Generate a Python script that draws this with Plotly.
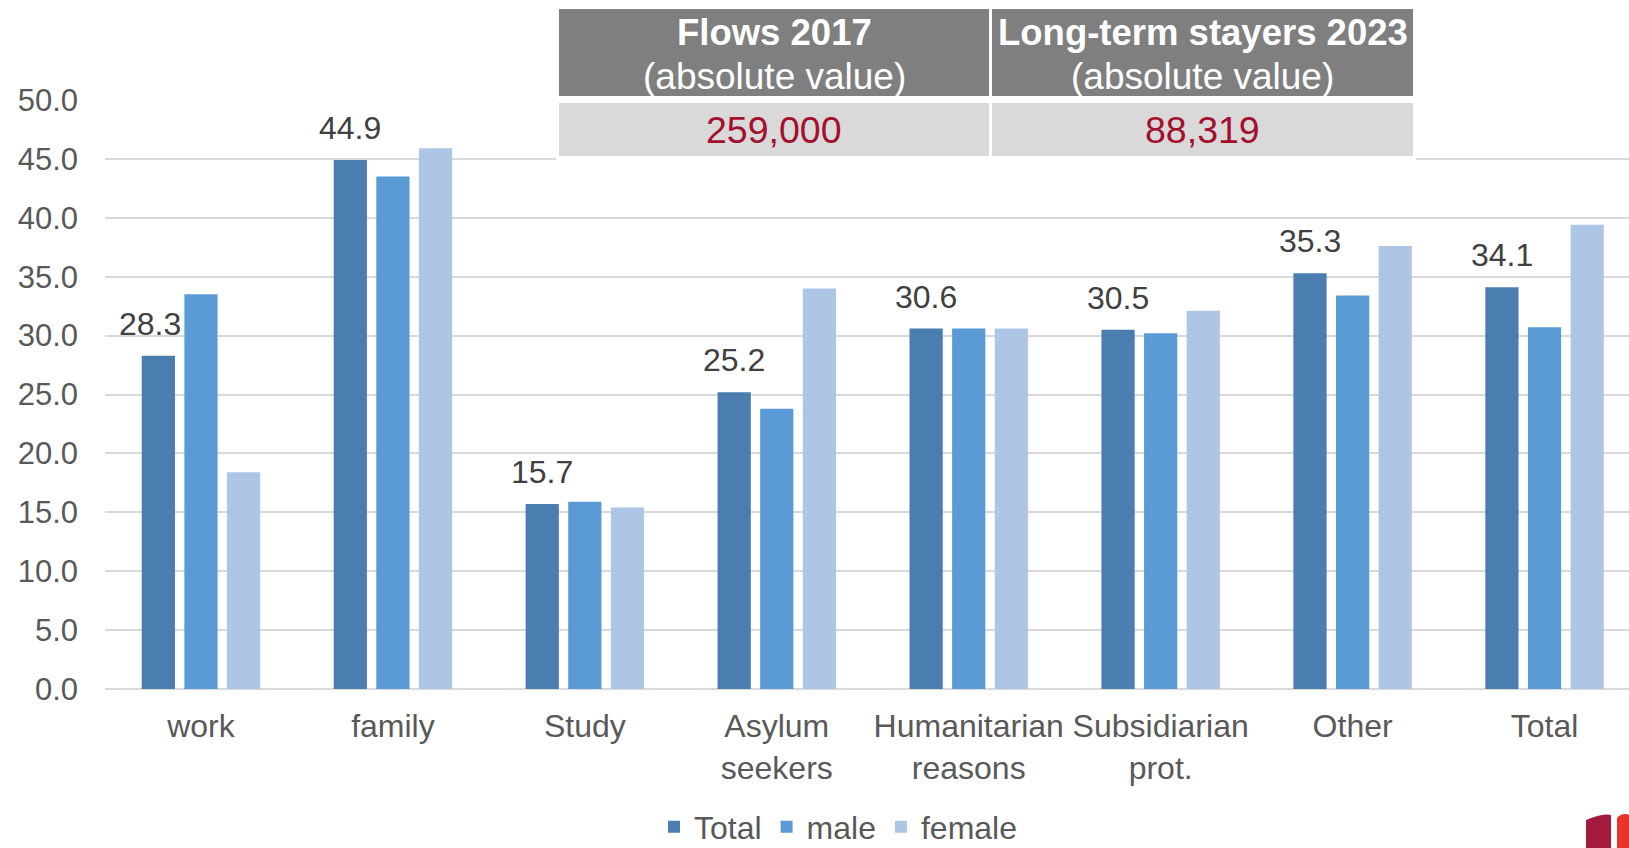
import plotly.graph_objects as go

categories = ["work", "family", "Study", "Asylum<br>seekers", "Humanitarian<br>reasons",
              "Subsidiarian<br>prot.", "Other", "Total"]
series_names = ["Total", "male", "female"]
total_vals = [28.3, 44.9, 15.7, 25.2, 30.6, 30.5, 35.3, 34.1]
male_vals = [33.5, 43.5, 15.9, 23.8, 30.6, 30.2, 33.4, 30.7]
female_vals = [18.4, 45.9, 15.4, 34.0, 30.6, 32.1, 37.6, 39.4]
y_ticks = [0, 5, 10, 15, 20, 25, 30, 35, 40, 45, 50]
y_tick_labels = ["%.1f" % v for v in y_ticks]
table_headers = ["Flows 2017", "Long-term stayers 2023"]
table_subheader = "(absolute value)"
table_values = ["259,000", "88,319"]

colors = ["#4a7eb0", "#5b9bd5", "#aec6e5"]
FONT = "Liberation Sans, Arial, sans-serif"
W, H = 1629, 848
L, R, T, B = 105, 0, 100, 848 - 689
PW, PH = W - L - R, H - T - B


def px(x):
    # x given in window pixels
    return (x - L) / PW


def py(y):
    # y given in window pixels
    return (H - B - y) / PH


fig = go.Figure()
for name, vals, col in zip(series_names, [total_vals, male_vals, female_vals], colors):
    fig.add_trace(go.Bar(x=categories, y=vals, name=name, marker_color=col,
                         marker_line_width=0))

annotations = []
for i, (c, v) in enumerate(zip(categories, total_vals)):
    # first label is nudged left in the original (it would touch the neighbouring bar)
    nudge = -8 if i == 0 else 0
    annotations.append(dict(x=c, y=v, xref="x", yref="y", text="%.1f" % v, showarrow=False,
                            xshift=-42.6 + nudge, yshift=12, xanchor="center", yanchor="bottom",
                            font=dict(size=32, color="#404040", family=FONT)))

shapes = []
# table background (white) and cells
shapes.append(dict(type="rect", xref="paper", yref="paper", x0=px(556), x1=px(1416),
                   y0=py(160), y1=py(7), fillcolor="white", line_width=0, layer="above"))
cells_x = [(559, 989), (992, 1413)]
for (x0, x1), head, val in zip(cells_x, table_headers, table_values):
    shapes.append(dict(type="rect", xref="paper", yref="paper", x0=px(x0), x1=px(x1),
                       y0=py(96), y1=py(9), fillcolor="#7f7f7f", line_width=0, layer="above"))
    shapes.append(dict(type="rect", xref="paper", yref="paper", x0=px(x0), x1=px(x1),
                       y0=py(156), y1=py(103), fillcolor="#d9d9d9", line_width=0, layer="above"))
    cx = px((x0 + x1) / 2)
    annotations.append(dict(x=cx, y=py(32), xref="paper", yref="paper", showarrow=False,
                            text="<b>%s</b>" % head, xanchor="center", yanchor="middle",
                            font=dict(size=36.5, color="white", family=FONT)))
    annotations.append(dict(x=cx, y=py(77), xref="paper", yref="paper", showarrow=False,
                            text=table_subheader, xanchor="center", yanchor="middle",
                            font=dict(size=37, color="white", family=FONT)))
    annotations.append(dict(x=cx, y=py(130), xref="paper", yref="paper", showarrow=False,
                            text=val, xanchor="center", yanchor="middle",
                            font=dict(size=37.5, color="#a50f2d", family=FONT)))

# logo fragments at bottom right
shapes.append(dict(type="path", xref="paper", yref="paper",
                   path="M %f,%f L %f,%f Q %f,%f %f,%f L %f,%f Z" % (
                       px(1586), py(850), px(1586), py(820), px(1604), py(813),
                       px(1611), py(815), px(1611), py(850)),
                   fillcolor="#a31a3d", line_width=0, layer="above"))
shapes.append(dict(type="path", xref="paper", yref="paper",
                   path="M %f,%f L %f,%f Q %f,%f %f,%f L %f,%f Z" % (
                       px(1617), py(850), px(1617), py(818), px(1622), py(812),
                       px(1630), py(815), px(1630), py(850)),
                   fillcolor="#e8322b", line_width=0, layer="above"))

fig.update_layout(
    width=W, height=H,
    margin=dict(l=L, r=R, t=T, b=B, pad=0, autoexpand=False),
    paper_bgcolor="white", plot_bgcolor="white",
    barmode="group", bargap=0.334, bargroupgap=0.22,
    font=dict(family=FONT, color="#595959", size=32),
    showlegend=True,
    legend=dict(orientation="h", x=px(838), xanchor="center", y=py(827), yanchor="middle",
                font=dict(size=32, color="#595959", family=FONT),
                itemsizing="constant", itemwidth=30, tracegroupgap=0),
    annotations=annotations,
    shapes=shapes,
)
fig.update_xaxes(range=[-0.5, 7.44], showgrid=False, showline=False, zeroline=False,
                 ticks="", ticklabelstandoff=15, automargin=False,
                 tickfont=dict(size=32, color="#595959", family=FONT))
fig.update_yaxes(range=[0, 50], tickvals=y_ticks, ticktext=y_tick_labels,
                 showgrid=True, gridcolor="#d9d9d9", gridwidth=2,
                 zeroline=True, zerolinecolor="#d9d9d9", zerolinewidth=2,
                 showline=False, ticks="", ticklabelstandoff=26, automargin=False,
                 tickfont=dict(size=31, color="#595959", family=FONT))

fig.write_html("out.html",
               config={"displayModeBar": False},
               post_script="document.body.style.margin='0';"
                           "document.body.style.overflow='hidden';"
                           "document.documentElement.style.overflow='hidden';")
